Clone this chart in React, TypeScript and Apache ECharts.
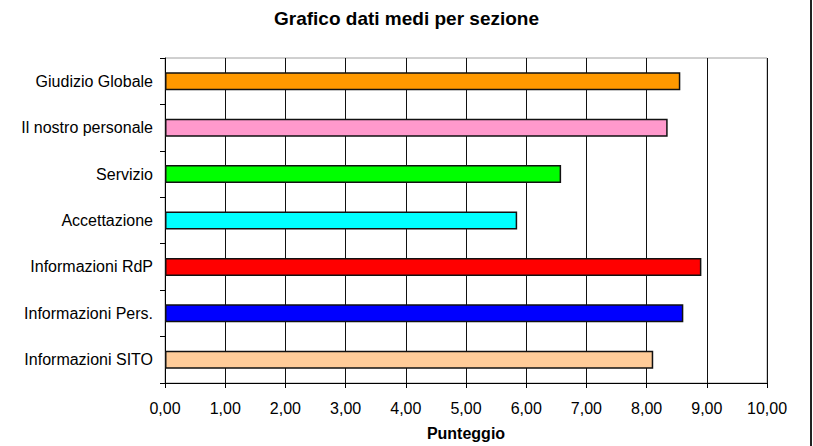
import React, { useEffect, useRef } from "react";
import * as echarts from "echarts";

const categories = [
  "Giudizio Globale",
  "Il nostro personale",
  "Servizio",
  "Accettazione",
  "Informazioni RdP",
  "Informazioni Pers.",
  "Informazioni SITO",
];
const values = [8.56, 8.35, 6.58, 5.85, 8.91, 8.61, 8.11];
const barColors = ["#FF9900", "#FF99CC", "#00FF00", "#00FFFF", "#FF0000", "#0000FF", "#FFCC99"];
const xTicks = [0, 1, 2, 3, 4, 5, 6, 7, 8, 9, 10];

const fmt = (v: number) => v.toFixed(2).replace(".", ",");

export default function App() {
  const ref = useRef<HTMLDivElement>(null);
  useEffect(() => {
    if (!ref.current) return;
    const chart = echarts.init(ref.current, undefined, { renderer: "svg" });
    const font = "'Liberation Sans', Arial, sans-serif";
    chart.setOption({
      animation: false,
      backgroundColor: "#ffffff",
      title: {
        text: "Grafico dati medi per sezione",
        left: "center",
        top: 9,
        padding: 0,
        textStyle: { fontFamily: font, fontSize: 19, fontWeight: "bold", color: "#000" },
      },
      grid: {
        left: 165,
        top: 58,
        width: 602,
        height: 328,
        show: true,
        borderColor: "#a0a0a0",
        borderWidth: 1,
        backgroundColor: "#fff",
      },
      xAxis: {
        type: "value",
        min: xTicks[0],
        max: xTicks[xTicks.length - 1],
        interval: 1,
        name: "Punteggio",
        nameLocation: "middle",
        nameGap: 42,
        nameTextStyle: { fontFamily: font, fontSize: 16, fontWeight: "bold", color: "#000" },
        axisLine: { show: true, lineStyle: { color: "#000", width: 1 } },
        axisTick: { show: true, length: 5, lineStyle: { color: "#000" } },
        axisLabel: {
          margin: 17,
          fontFamily: font,
          fontSize: 16,
          color: "#000",
          formatter: (v: number) => fmt(v),
        },
        splitLine: { show: true, lineStyle: { color: "#111", width: 1 } },
      },
      yAxis: {
        type: "category",
        data: categories,
        inverse: true,
        axisLine: { show: true, lineStyle: { color: "#000", width: 1 } },
        axisTick: { show: true, length: 5, lineStyle: { color: "#000" } },
        axisLabel: { margin: 12, fontFamily: font, fontSize: 16, color: "#000" },
        splitLine: { show: false },
      },
      series: [
        {
          type: "bar",
          barWidth: 18,
          data: values.map((v, i) => ({
            value: v,
            itemStyle: { color: barColors[i], borderColor: "#111", borderWidth: 1.5 },
          })),
        },
      ],
      graphic: [
        {
          type: "line",
          shape: { x1: 811, y1: 0, x2: 811, y2: 446 },
          style: { stroke: "#222", lineWidth: 2 },
        },
      ],
    });
    return () => chart.dispose();
  }, []);
  return (
    <div
      ref={ref}
      style={{ position: "fixed", left: 0, top: 0, width: 813, height: 446, background: "#fff" }}
    />
  );
}
